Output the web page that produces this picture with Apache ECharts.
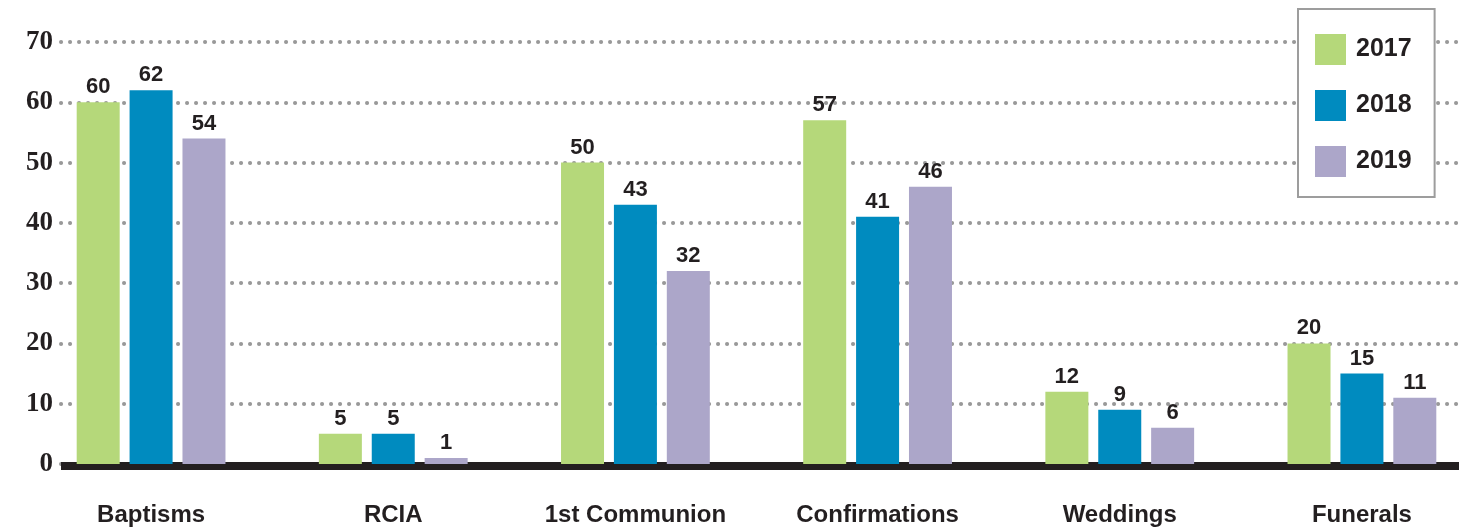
<!DOCTYPE html>
<html>
<head>
<meta charset="utf-8">
<script src="https://cdn.jsdelivr.net/npm/echarts@6/dist/echarts.min.js"></script>
<style>
  html, body { margin: 0; padding: 0; background: #fff; }
  #chart { width: 1474px; height: 529px; }
</style>
</head>
<body>
<div id="chart"></div>
<script>
// data
const categories = ['Baptisms', 'RCIA', '1st Communion', 'Confirmations', 'Weddings', 'Funerals']
const years = ['2017', '2018', '2019']
const values2017 = [60, 5, 50, 57, 12, 20]
const values2018 = [62, 5, 43, 41, 9, 15]
const values2019 = [54, 1, 32, 46, 6, 11]
const yTicks = [0, 10, 20, 30, 40, 50, 60, 70]

const colors = ['#b5d87a', '#008bbf', '#aca6c9']
const ink = '#231f20'
const sans = '"Liberation Sans", Arial, sans-serif'

const chart = echarts.init(document.getElementById('chart'))

function barSeries(name, data, color) {
  return {
    name: name,
    type: 'bar',
    xAxisIndex: 0,
    yAxisIndex: 0,
    barWidth: 43,
    barGap: '23%',
    data: data,
    itemStyle: { color: color },
    label: {
      show: true,
      position: 'top',
      distance: 4,
      color: ink,
      fontFamily: sans,
      fontWeight: 'bold',
      fontSize: 22
    },
    z: 3
  }
}

chart.setOption({
  animation: false,
  // grid 0 holds the bars, grid 1 draws the dotted lines, baseline and y labels
  grid: [
    { left: 30, width: 1453, top: 42, bottom: 65, outerBoundsMode: 'none' },
    { left: 61, right: 15, top: 42, bottom: 65 }
  ],
  legend: {
    data: years,
    orient: 'vertical',
    left: 1298,
    top: 9,
    icon: 'rect',
    itemWidth: 31,
    itemHeight: 31,
    itemGap: 25,
    padding: [25, 23, 20, 17],
    borderColor: '#9d9d9d',
    borderWidth: 2,
    backgroundColor: '#fff',
    textStyle: {
      color: ink,
      fontFamily: sans,
      fontWeight: 'bold',
      fontSize: 25,
      padding: [0, 0, 0, 5]
    },
    z: 10
  },
  xAxis: [
    {
      type: 'category',
      gridIndex: 0,
      data: categories,
      axisLine: { show: false },
      axisTick: { show: false },
      axisLabel: {
        interval: 0,
        margin: 39,
        color: ink,
        fontFamily: sans,
        fontWeight: 'bold',
        fontSize: 24
      }
    },
    {
      type: 'value',
      gridIndex: 1,
      min: 0,
      max: 1,
      offset: 2,
      axisLine: { show: true, onZero: false, lineStyle: { color: ink, width: 8, cap: 'butt' } },
      axisTick: { show: false },
      axisLabel: { show: false },
      splitLine: { show: false }
    }
  ],
  yAxis: [
    {
      type: 'value',
      gridIndex: 0,
      min: yTicks[0],
      max: yTicks[yTicks.length - 1],
      interval: 10,
      show: false,
      splitLine: { show: false }
    },
    {
      type: 'value',
      gridIndex: 1,
      min: yTicks[0],
      max: yTicks[yTicks.length - 1],
      interval: 10,
      axisLine: { show: false },
      axisTick: { show: false },
      axisLabel: {
        margin: 8,
        color: ink,
        fontFamily: '"Liberation Serif", "Times New Roman", serif',
        fontWeight: 'bold',
        fontSize: 27
      },
      splitLine: {
        show: true,
        lineStyle: { color: '#999999', width: 4, type: [0.1, 8.9], cap: 'round' }
      }
    }
  ],
  series: [
    barSeries(years[0], values2017, colors[0]),
    barSeries(years[1], values2018, colors[1]),
    barSeries(years[2], values2019, colors[2])
  ]
})
</script>
</body>
</html>
